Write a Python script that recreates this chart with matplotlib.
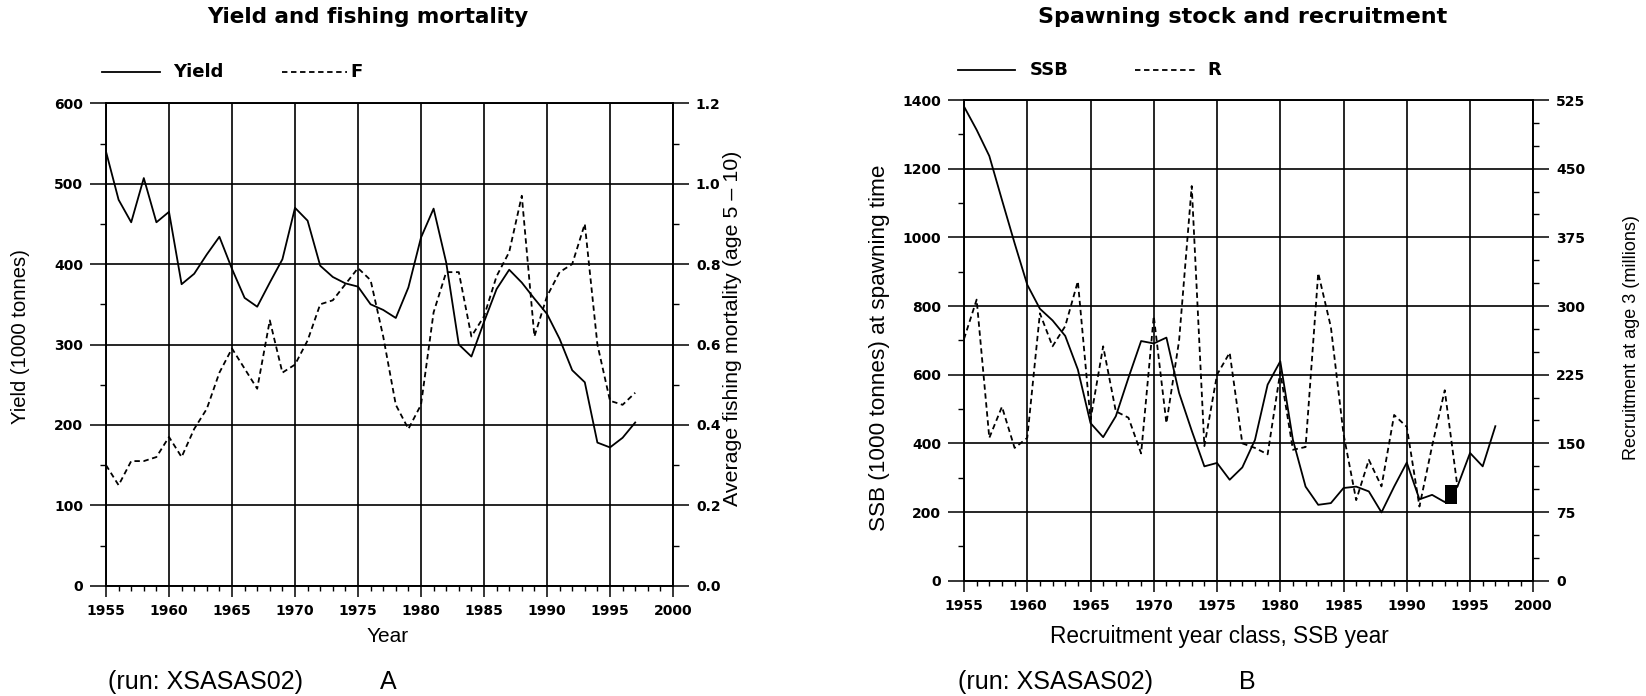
import matplotlib
matplotlib.use("Agg")
import matplotlib.pyplot as plt
from matplotlib.lines import Line2D
from matplotlib.ticker import MultipleLocator, FixedLocator

# ---------------- data ----------------
years_a = list(range(1955, 1998))
yield_kt = [540, 480, 452, 507, 452, 465, 375, 388, 412, 434,
            394, 358, 347, 377, 406, 470, 454, 398, 384, 376,
            372, 350, 343, 333, 371, 433, 469, 402, 300, 285,
            328, 369, 393, 377, 357, 338, 307, 268, 253, 178,
            172, 184, 203]
f_avg = [0.30, 0.25, 0.31, 0.31, 0.32, 0.37, 0.32, 0.39, 0.44, 0.53,
         0.59, 0.54, 0.49, 0.66, 0.53, 0.55, 0.61, 0.70, 0.71, 0.75,
         0.79, 0.76, 0.62, 0.45, 0.39, 0.45, 0.68, 0.78, 0.78, 0.62,
         0.67, 0.77, 0.83, 0.97, 0.62, 0.72, 0.78, 0.80, 0.90, 0.60,
         0.46, 0.45, 0.48]

years_b = list(range(1955, 1998))
ssb_kt = [1381, 1313, 1237, 1109, 983, 862, 792, 758, 713, 615,
          459, 418, 479, 591, 698, 691, 708, 547, 437, 333,
          343, 294, 330, 410, 571, 639, 410, 274, 221, 226,
          270, 274, 260, 199, 274, 344, 237, 250, 229, 274,
          372, 333, 450]
rec_years = list(range(1955, 1995))
recruits = [264, 307, 156, 190, 145, 156, 292, 256, 278, 327,
            176, 256, 185, 178, 139, 289, 172, 262, 431, 147,
            225, 249, 150, 145, 138, 228, 143, 146, 336, 277,
            160, 88, 132, 103, 181, 168, 81, 147, 208, 103]
box_year = [1993.5]
box_low = [222]
box_high = [279]

xticks = [1955, 1960, 1965, 1970, 1975, 1980, 1985, 1990, 1995, 2000]
xtick_labels = [str(v) for v in xticks]
yield_ticks = [0, 100, 200, 300, 400, 500, 600]
f_ticks = [0.0, 0.2, 0.4, 0.6, 0.8, 1.0, 1.2]
f_labels = ["0.0", "0.2", "0.4", "0.6", "0.8", "1.0", "1.2"]
ssb_ticks = [0, 200, 400, 600, 800, 1000, 1200, 1400]
rec_ticks = [0, 75, 150, 225, 300, 375, 450, 525]

# ---------------- figure ----------------
W, H = 1646, 696
fig = plt.figure(figsize=(W / 100, H / 100), dpi=100)
fig.patch.set_facecolor("white")

SANS = ["Liberation Sans", "DejaVu Sans"]
TICKFONT = dict(fontsize=10, fontweight="bold", family="DejaVu Sans")


def fx(px):
    return px / W


def fy(py):
    return 1 - py / H


axA = fig.add_axes([fx(106), fy(585.7), 567 / W, 482.4 / H])
axA2 = axA.twinx()
axB = fig.add_axes([fx(964), fy(580.7), 569.3 / W, 480.7 / H])
axB2 = axB.twinx()

DASH = (0, (3, 2))
LW = 1.3

axA.plot(years_a, yield_kt, color="k", lw=LW, zorder=3)
axA2.plot(years_a, f_avg, color="k", lw=LW, ls=DASH, zorder=3)
axB.plot(years_b, ssb_kt, color="k", lw=LW, zorder=3)
axB2.plot(rec_years, recruits, color="k", lw=LW, ls=DASH, zorder=3)
axB.bar(box_year, [h - l for h, l in zip(box_high, box_low)], bottom=box_low,
        width=1.0, color="k", zorder=4)

axA.set_xlim(1955, 2000)
axA.set_ylim(0, 600)
axA2.set_ylim(0, 1.2)
axB.set_xlim(1955, 2000)
axB.set_ylim(0, 1400)
axB2.set_ylim(0, 525)

for ax in (axA, axB):
    ax.xaxis.set_major_locator(FixedLocator(xticks))
    ax.set_xticklabels(xtick_labels, **TICKFONT)
    ax.xaxis.set_minor_locator(MultipleLocator(1))
    ax.tick_params(axis="x", which="major", length=8, width=1.1, pad=5.5, direction="out")
    ax.tick_params(axis="x", which="minor", length=3.5, width=1.0, direction="out")
    ax.grid(True, which="major", color="k", lw=1.2, zorder=1)
    ax.set_axisbelow(True)

axA.yaxis.set_major_locator(FixedLocator(yield_ticks))
axA.set_yticklabels([str(v) for v in yield_ticks], **TICKFONT)
axA.yaxis.set_minor_locator(MultipleLocator(50))
axA2.yaxis.set_major_locator(FixedLocator(f_ticks))
axA2.set_yticklabels(f_labels, **TICKFONT)
axA2.yaxis.set_minor_locator(MultipleLocator(0.1))

axB.yaxis.set_major_locator(FixedLocator(ssb_ticks))
axB.set_yticklabels([str(v) for v in ssb_ticks], **TICKFONT)
axB.yaxis.set_minor_locator(MultipleLocator(100))
axB2.yaxis.set_major_locator(FixedLocator(rec_ticks))
axB2.set_yticklabels([str(v) for v in rec_ticks], **TICKFONT)
axB2.yaxis.set_minor_locator(MultipleLocator(25))

for ax in (axA, axB, axA2, axB2):
    ax.tick_params(axis="y", which="major", length=11.5, width=1.1, pad=5)
    ax.tick_params(axis="y", which="minor", length=4.3, width=1.0)
    for s in ax.spines.values():
        s.set_linewidth(1.2)
        s.set_color("k")

# ---------------- titles & legends ----------------
fig.text(fx(367.5), fy(17), "Yield and fishing mortality", ha="center", va="center",
         fontsize=15.5, fontweight="bold", family="DejaVu Sans")
fig.text(fx(1243), fy(17), "Spawning stock and recruitment", ha="center", va="center",
         fontsize=16, fontweight="bold", family="DejaVu Sans")

LEGFONT = dict(fontsize=13, fontweight="bold", family="DejaVu Sans", va="center", ha="left")
fig.add_artist(Line2D([fx(102), fx(160)], [fy(72)] * 2, color="k", lw=LW))
fig.text(fx(173), fy(72), "Yield", **LEGFONT)
fig.add_artist(Line2D([fx(282), fx(347)], [fy(72)] * 2, color="k", lw=LW, ls=DASH))
fig.text(fx(350), fy(72), "F", **LEGFONT)

fig.add_artist(Line2D([fx(958), fx(1015)], [fy(70)] * 2, color="k", lw=LW))
fig.text(fx(1030), fy(70), "SSB", **LEGFONT)
fig.add_artist(Line2D([fx(1135), fx(1197)], [fy(70)] * 2, color="k", lw=LW, ls=DASH))
fig.text(fx(1207), fy(70), "R", **LEGFONT)

# ---------------- axis labels ----------------
fig.text(fx(21), fy(337), "Yield (1000 tonnes)", rotation=90, ha="center", va="center",
         fontsize=14.6, family=SANS)
fig.text(fx(733), fy(328), "Average fishing mortality (age 5 \u2013 10)", rotation=90,
         ha="center", va="center", fontsize=15.4, family=SANS)
fig.text(fx(880), fy(348), "SSB (1000 tonnes) at spawning time", rotation=90,
         ha="center", va="center", fontsize=16.2, family=SANS)
fig.text(fx(1631), fy(338), "Recruitment at age 3 (millions)", rotation=90,
         ha="center", va="center", fontsize=13, family=SANS)

fig.text(fx(388), fy(637), "Year", ha="center", va="center", fontsize=15, family=SANS)
fig.text(fx(1219), fy(636), "Recruitment year class, SSB year", ha="center", va="center",
         fontsize=16.3, family=SANS)

fig.text(fx(108), fy(682), "(run: XSASAS02)", ha="left", va="center", fontsize=18, family=SANS)
fig.text(fx(388), fy(682), "A", ha="center", va="center", fontsize=18, family=SANS)
fig.text(fx(958), fy(682), "(run: XSASAS02)", ha="left", va="center", fontsize=18, family=SANS)
fig.text(fx(1247), fy(682), "B", ha="center", va="center", fontsize=18, family=SANS)

fig.savefig("out.png", dpi=100, facecolor="white")
